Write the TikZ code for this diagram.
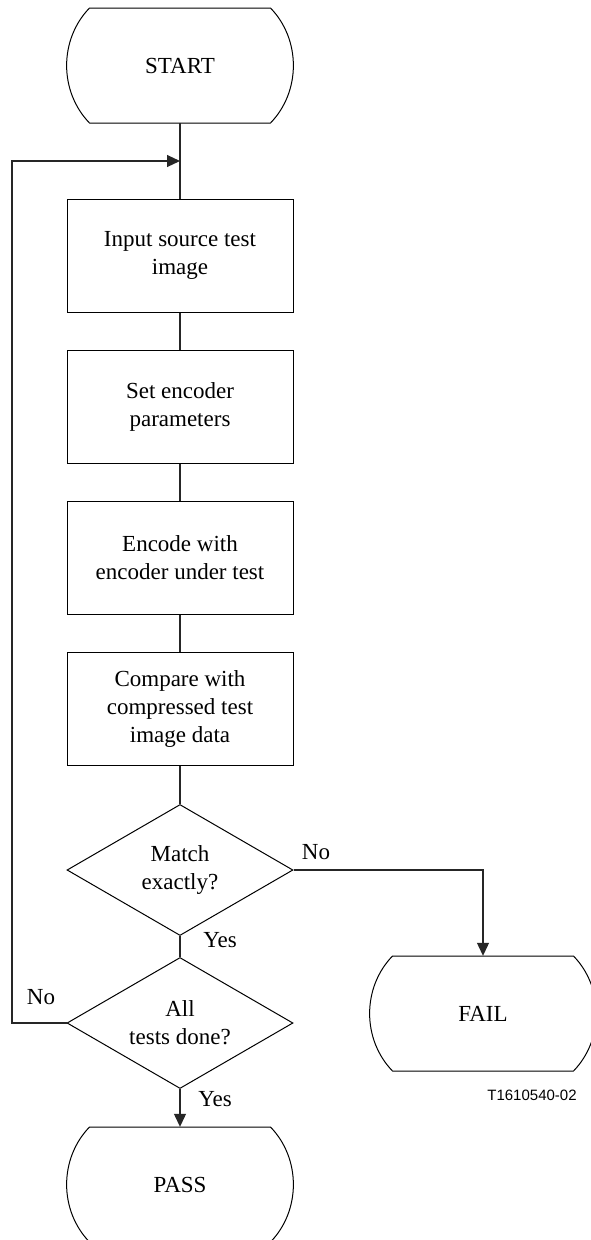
\documentclass[tikz,border=0pt]{standalone}
\usepackage{fontspec}
\setmainfont{Liberation Serif}
\newfontfamily\labelsans{Liberation Sans}
\usetikzlibrary{shapes.geometric,arrows.meta,calc}
\tikzset{
  txt/.style={font=\fontsize{23}{28}\selectfont, align=center},
  procbox/.style={txt, draw, line width=1pt, rectangle, minimum width=226pt, minimum height=113pt, inner sep=0pt},
  termnode/.style={txt, minimum width=226pt, minimum height=115pt, inner sep=0pt},
  decision/.style={txt, draw, line width=1pt, diamond, minimum width=226pt, minimum height=131pt, aspect=1.73, inner sep=0pt},
  conn/.style={line width=1.1pt, draw=black!85},
  arr/.style={conn, -{Triangle[length=13pt,width=12pt]}},
  lbl/.style={font=\fontsize{23}{28}\selectfont, inner sep=0pt},
  termline/.style={line width=1pt},
}
\newcommand{\termoutline}[1]{%
  \draw[termline, shift={(#1.center)}] (-90.5,-57.5) -- (90.5,-57.5)
    .. controls (121,-26) and (121,26) .. (90.5,57.5) -- (-90.5,57.5)
    .. controls (-121,26) and (-121,-26) .. cycle;}
\begin{document}
\begin{tikzpicture}[x=1pt,y=-1pt]
\useasboundingbox (0,0) rectangle (591,1240);
\clip (0,0) rectangle (591,1240);
\fill[white] (0,0) rectangle (591,1240);

\node[termnode] (start) at (180,65.5) {START};
\termoutline{start}

\node[procbox] (b1) at (180,255.5) {Input source test\\image};
\node[procbox] (b2) at (180,406.5) {Set encoder\\parameters};
\node[procbox] (b3) at (180,557.5) {Encode with\\encoder under test};
\node[procbox] (b4) at (180,709) {Compare with\\compressed test\\image data};

\node[decision] (d1) at (180,870) {Match\\exactly?};
\node[decision] (d2) at (180,1023) {All\\tests done?};

\node[termnode] (fail) at (483,1013.5) {FAIL};
\termoutline{fail}
\node[termnode] (pass) at (180,1184.5) {PASS};
\termoutline{pass}

\coordinate (loopin) at (180,161);
\coordinate (loopx) at (12,161);

\draw[conn] (start.south) -- (b1.north);
\draw[conn] (b1.south) -- (b2.north);
\draw[conn] (b2.south) -- (b3.north);
\draw[conn] (b3.south) -- (b4.north);
\draw[conn] (b4.south) -- (d1.north);
\draw[conn] (d1.south) -- (d2.north);
\draw[arr] (d1.east) -| (fail.north);
\draw[arr] (d2.south) -- (pass.north);
\draw[arr] (d2.west) -- (d2.west -| loopx) -- (loopx) -- (loopin);

\node[lbl] (no1) at (316,852) {No};
\node[lbl] (yes1) at (220,940) {Yes};
\node[lbl] (no2) at (41,997) {No};
\node[lbl] (yes2) at (215,1099) {Yes};
\node[font=\labelsans\fontsize{15}{18}\selectfont, inner sep=0pt] (fig) at (532,1095) {T1610540-02};
\end{tikzpicture}
\end{document}
